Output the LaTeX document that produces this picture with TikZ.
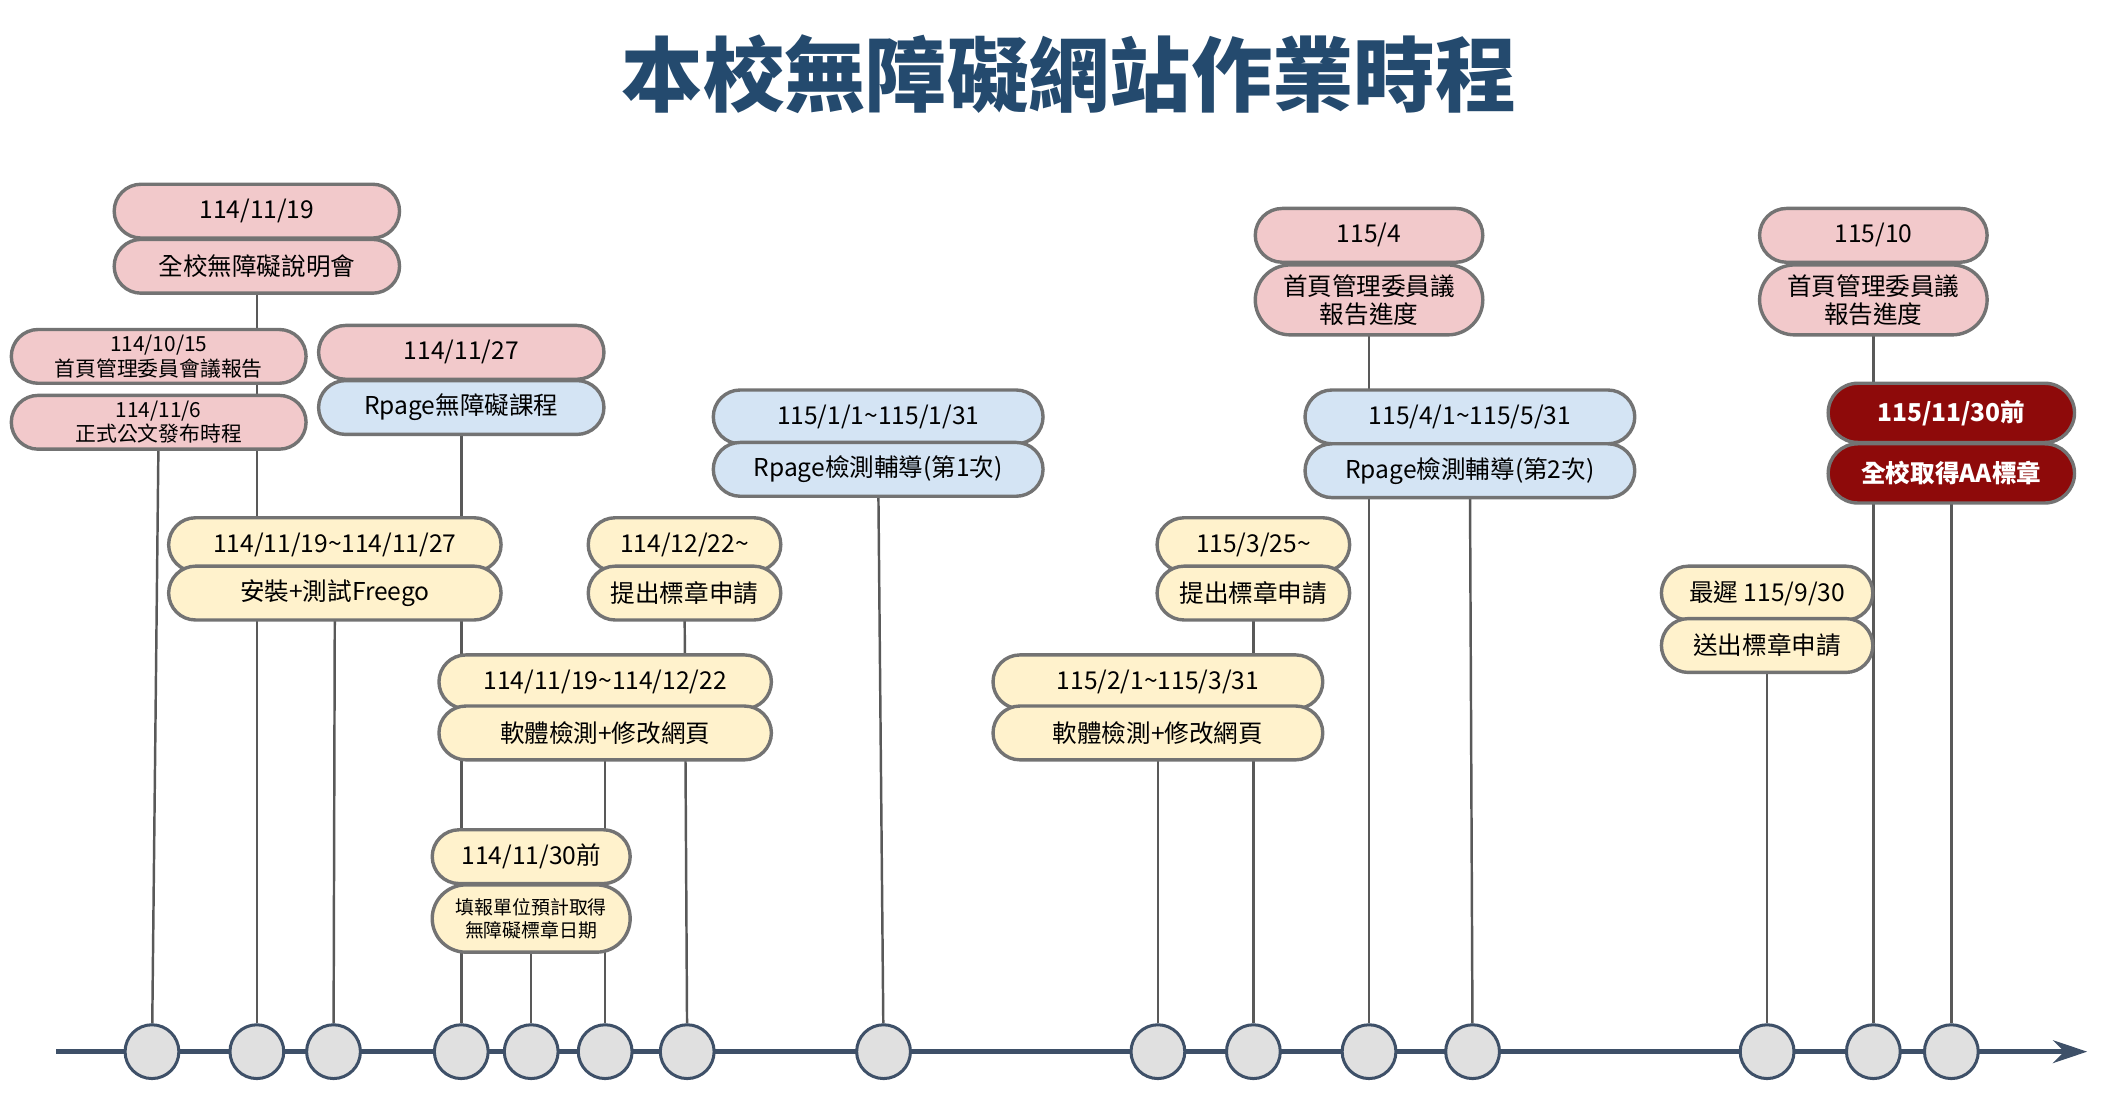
\documentclass[tikz,border=0pt]{standalone}
\usepackage{fontspec}
\setmainfont{Noto Sans CJK TC}
\usetikzlibrary{shapes.misc,backgrounds,arrows.meta}
\definecolor{pinkbox}{HTML}{F2C9CB}
\definecolor{bluebox}{HTML}{D4E4F4}
\definecolor{yellowbox}{HTML}{FFF2CC}
\definecolor{redbox}{HTML}{8E0A0A}
\definecolor{titleblue}{HTML}{244A6E}
\definecolor{axis}{HTML}{3E5068}
\tikzset{
  pill/.style={rounded rectangle, draw=black!55, line width=1.8pt, inner sep=1pt,
    minimum height=1.0cm, font=\fontsize{13}{15}\selectfont, align=center},
  pink/.style={pill, fill=pinkbox},
  blue/.style={pill, fill=bluebox},
  yellow/.style={pill, fill=yellowbox},
  red/.style={pill, fill=redbox, text=white, font=\fontsize{13}{15}\selectfont\bfseries},
  dot/.style={circle, draw=axis, line width=1.6pt, fill=black!12, minimum size=1.0cm},
  stem/.style={draw=black!65, line width=1.3pt}
}
\begin{document}
\begin{tikzpicture}[x=0.025cm, y=0.025cm]
  \useasboundingbox (0,0) rectangle (1566,-830);
  \node[font=\fontsize{43}{47}\selectfont\bfseries, text=titleblue] (title) at (795,-55) {本校無障礙網站作業時程};
  % timeline
  \coordinate (start) at (42,-782);
  \coordinate (end) at (1552,-782);
  \draw[axis, line width=2.5pt, -{Stealth[length=18pt,width=12pt]}] (start) -- (end);
  \foreach \n/\x in {a/113, b/191, c/248, d/343, e/395, f/450, g/511, h/657, i/861, j/932, k/1018, l/1095, m/1314, n/1393, o/1451}
    \node[dot] (d\n) at (\x,-782) {};
  % boxes
  \node[pink, minimum width=215*0.025cm] (p1t) at (191,-157) {114/11/19};
  \node[pink, minimum width=215*0.025cm] (p1b) at (191,-198) {全校無障礙說明會};
  \node[pink, minimum width=222*0.025cm, font=\fontsize{11}{13}\selectfont] (p2t) at (118,-265) {114/10/15\\首頁管理委員會議報告};
  \node[pink, minimum width=222*0.025cm, font=\fontsize{11}{13}\selectfont] (p2b) at (118,-314) {114/11/6\\正式公文發布時程};
  \node[pink, minimum width=215*0.025cm] (p3t) at (343,-262) {114/11/27};
  \node[blue, minimum width=215*0.025cm] (p3b) at (343,-303) {Rpage無障礙課程};
  \node[yellow, minimum width=250*0.025cm] (p4t) at (249,-405) {114/11/19\textasciitilde114/11/27};
  \node[yellow, minimum width=250*0.025cm] (p4b) at (249,-441) {安裝+測試Freego};
  \node[yellow, minimum width=146*0.025cm] (p5t) at (509,-405) {114/12/22\textasciitilde};
  \node[yellow, minimum width=146*0.025cm] (p5b) at (509,-441) {提出標章申請};
  \node[yellow, minimum width=250*0.025cm] (p6t) at (450,-507) {114/11/19\textasciitilde114/12/22};
  \node[yellow, minimum width=250*0.025cm] (p6b) at (450,-545) {軟體檢測+修改網頁};
  \node[yellow, minimum width=150*0.025cm] (p7t) at (395,-637) {114/11/30前};
  \node[yellow, minimum width=150*0.025cm, minimum height=1.25cm, font=\fontsize{10}{12}\selectfont] (p7b) at (395,-683) {填報單位預計取得\\無障礙標章日期};
  \node[blue, minimum width=248*0.025cm] (p8t) at (653,-310) {115/1/1\textasciitilde115/1/31};
  \node[blue, minimum width=248*0.025cm] (p8b) at (653,-349) {Rpage檢測輔導(第1次)};
  \node[yellow, minimum width=248*0.025cm] (p9t) at (861,-507) {115/2/1\textasciitilde115/3/31};
  \node[yellow, minimum width=248*0.025cm] (p9b) at (861,-545) {軟體檢測+修改網頁};
  \node[yellow, minimum width=146*0.025cm] (p10t) at (932,-405) {115/3/25\textasciitilde};
  \node[yellow, minimum width=146*0.025cm] (p10b) at (932,-441) {提出標章申請};
  \node[pink, minimum width=172*0.025cm] (p11t) at (1018,-175) {115/4};
  \node[pink, minimum width=172*0.025cm, minimum height=1.3cm] (p11b) at (1018,-223) {首頁管理委員議\\報告進度};
  \node[blue, minimum width=248*0.025cm] (p12t) at (1093,-310) {115/4/1\textasciitilde115/5/31};
  \node[blue, minimum width=248*0.025cm] (p12b) at (1093,-350) {Rpage檢測輔導(第2次)};
  \node[pink, minimum width=172*0.025cm] (p13t) at (1393,-175) {115/10};
  \node[pink, minimum width=172*0.025cm, minimum height=1.3cm] (p13b) at (1393,-223) {首頁管理委員議\\報告進度};
  \node[red, minimum width=186*0.025cm, minimum height=1.1cm] (p14t) at (1451,-307) {115/11/30前};
  \node[red, minimum width=186*0.025cm, minimum height=1.1cm] (p14b) at (1451,-352) {全校取得AA標章};
  \node[yellow, minimum width=160*0.025cm] (p15t) at (1314,-441) {最遲 115/9/30};
  \node[yellow, minimum width=160*0.025cm] (p15b) at (1314,-480) {送出標章申請};
  % stems
  \begin{scope}[on background layer]
    \draw[stem] (da) -- (p2b.center);
    \draw[stem] (db) -- (p1b.center);
    \draw[stem] (dc) -- (p4b.center);
    \draw[stem] (dd) -- (p3b.center);
    \draw[stem] (de) -- (p7b.center);
    \draw[stem] (df) -- (p6b.center);
    \draw[stem] (dg) -- (p5b.center);
    \draw[stem] (dh) -- (p8b.center);
    \draw[stem] (di) -- (p9b.center);
    \draw[stem] (dj) -- (p10b.center);
    \draw[stem] (dk) -- (p11b.center);
    \draw[stem] (dl) -- (p12b.center);
    \draw[stem] (dm) -- (p15b.center);
    \draw[stem] (dn) -- (p13b.center);
    \draw[stem] (do) -- (p14b.center);
  \end{scope}
\end{tikzpicture}
\end{document}
